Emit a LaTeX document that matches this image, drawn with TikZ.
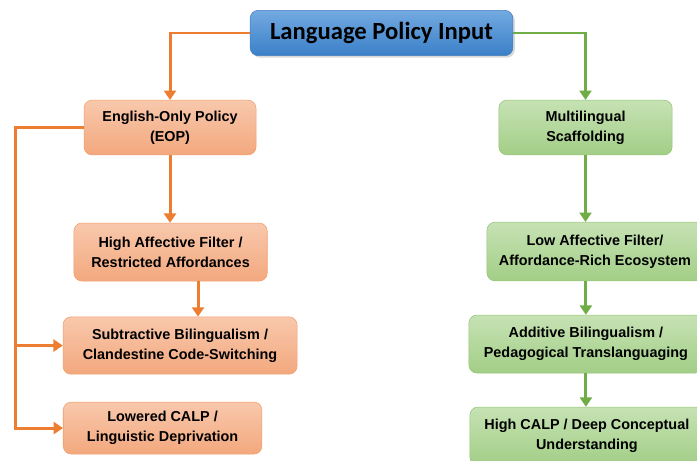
\documentclass[tikz,border=0pt]{standalone}
\usepackage{fontspec}
\setmainfont{Liberation Sans}
\newfontfamily\calibri{Carlito}
\usepackage{tikz}
\usetikzlibrary{arrows.meta, shadows, positioning}
\definecolor{orangeline}{RGB}{237, 125, 49}
\definecolor{orangetop}{RGB}{248, 200, 172}
\definecolor{orangebottom}{RGB}{243, 168, 126}
\definecolor{orangeborder}{RGB}{242, 158, 106}
\definecolor{greenline}{RGB}{112, 173, 71}
\definecolor{greentop}{RGB}{198, 226, 180}
\definecolor{greenbottom}{RGB}{162, 206, 134}
\definecolor{greenborder}{RGB}{148, 196, 116}
\definecolor{bluetop}{RGB}{115, 170, 225}
\definecolor{bluebottom}{RGB}{58, 128, 200}
\definecolor{blueborder}{RGB}{70, 125, 190}
\tikzset{
    titlenode/.style = {draw=blueborder, rectangle, rounded corners=6pt, top color=bluetop, bottom color=bluebottom,
      minimum width=197pt, minimum height=34pt, node distance=0em,
      drop shadow={opacity=0.3, shadow xshift=1.5pt, shadow yshift=-1.5pt},
      font=\calibri\bfseries\fontsize{18.5}{20}\selectfont},
    orangenode/.style = {draw=orangeborder, rectangle, rounded corners=6pt, top color=orangetop, bottom color=orangebottom,
      inner sep=0em, node distance=0em, font=\bfseries\fontsize{10.8}{15}\selectfont},
    greennode/.style = {draw=greenborder, rectangle, rounded corners=6pt, top color=greentop, bottom color=greenbottom,
      inner sep=0em, node distance=0em, font=\bfseries\fontsize{10.8}{15}\selectfont},
    orangeconnect/.style = {orangeline, line width=2.2pt, -{Triangle[length=7pt,width=9pt]}},
    greenconnect/.style = {greenline, line width=2.2pt, -{Triangle[length=7pt,width=9pt]}},
    every text node part/.style={align=center}
}

\begin{document}
\begin{tikzpicture}[x=0.75pt, y=-0.75pt]
\clip (0,0) rectangle (697,461);
\node [titlenode, name=policy] at (381.5,33) {Language Policy Input};

% English-only branch
\node [orangenode, name=eop, minimum width=129pt, minimum height=41pt, below of=policy, xshift=-158.6pt, yshift=-70.9pt] {English-Only Policy\\(EOP)};
\node [orangenode, name=highfilter, minimum width=145pt, minimum height=43.5pt, below of=eop, xshift=0.4pt, yshift=-93.4pt] {High Affective Filter /\\Restricted Affordances};
\node [orangenode, name=subtractive, minimum width=175.5pt, minimum height=43pt, below of=highfilter, xshift=7.1pt, yshift=-70.1pt] {Subtractive Bilingualism /\\Clandestine Code-Switching};
\node [orangenode, name=lowcalp, minimum width=149pt, minimum height=39pt, below of=subtractive, xshift=-13.1pt, yshift=-61.9pt] {Lowered CALP /\\Linguistic Deprivation};

% multilingual branch
\node [greennode, name=scaffold, minimum width=130pt, minimum height=41pt, below of=policy, xshift=153pt, yshift=-70.9pt] {Multilingual\\Scaffolding};
\node [greennode, name=lowfilter, minimum width=162pt, minimum height=44pt, below of=scaffold, xshift=7.1pt, yshift=-93pt] {Low Affective Filter/\\Affordance-Rich Ecosystem};
\node [greennode, name=additive, minimum width=175.5pt, minimum height=43.5pt, below of=lowfilter, xshift=-6.8pt, yshift=-69.4pt] {Additive Bilingualism /\\Pedagogical Translanguaging};
\node [greennode, name=highcalp, minimum width=175.5pt, minimum height=43.5pt, below of=additive, xshift=0.75pt, yshift=-69pt] {High CALP / Deep Conceptual\\Understanding};

\coordinate (bus) at ([xshift=-51pt]eop.west);

\draw [orangeconnect] (policy.west) -| (eop.north);
\draw [orangeconnect] (eop.south) -- (eop.south |- highfilter.north);
\draw [orangeconnect] ([xshift=20.6pt]highfilter.south) -- ([xshift=20.6pt]highfilter.south |- subtractive.north);
\draw [orangeconnect] (eop.west) -- (bus) |- (lowcalp.west);
\draw [orangeconnect] (bus |- subtractive.west) -- (subtractive.west);

\draw [greenconnect] (policy.east) -| (scaffold.north);
\draw [greenconnect] (scaffold.south) -- (scaffold.south |- lowfilter.north);
\draw [greenconnect] (additive.north |- lowfilter.south) -- (additive.north);
\draw [greenconnect] (additive.south) -- (additive.south |- highcalp.north);
\end{tikzpicture}
\end{document}
